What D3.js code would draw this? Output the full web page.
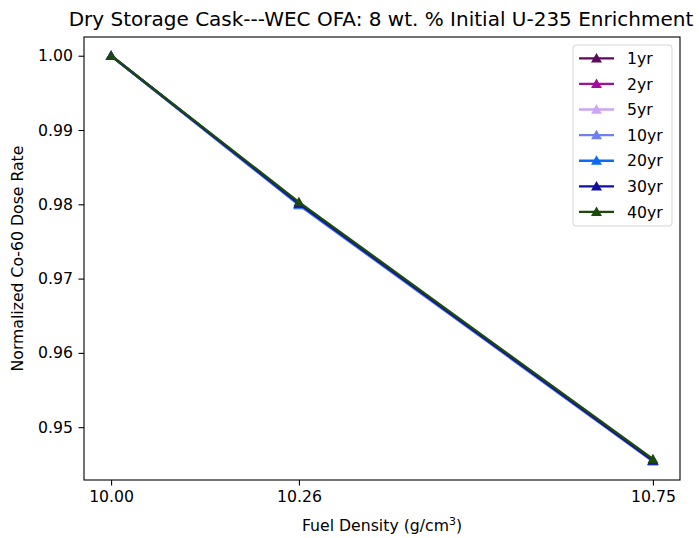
<!DOCTYPE html>
<html><head><meta charset="utf-8">
<script src="https://cdn.jsdelivr.net/npm/d3@7"></script>
<style>body{margin:0;background:#fff}svg{display:block;font-family:"DejaVu Sans",sans-serif}</style>
</head><body><svg id="c" width="699" height="538"></svg>
<script>
const densities = [10.00, 10.26, 10.75];
const xTickLabels = ["10.00", "10.26", "10.75"];
const yTicks = [0.95, 0.96, 0.97, 0.98, 0.99, 1.00];
const seriesNames = ["1yr", "2yr", "5yr", "10yr", "20yr", "30yr", "40yr"];
const seriesColors = ["#5c0a5c", "#a0109c", "#cca4f4", "#6e80f0", "#0a6cf4", "#10109c", "#1c4a0c"];
const v1yr  = [1.0, 0.9801, 0.9455];
const v2yr  = [1.0, 0.9800, 0.9455];
const v5yr  = [1.0, 0.9799, 0.9454];
const v10yr = [1.0, 0.9799, 0.9454];
const v20yr = [1.0, 0.9800, 0.9455];
const v30yr = [1.0, 0.9801, 0.9455];
const v40yr = [1.0, 0.9803, 0.9457];
const seriesValues = [v1yr, v2yr, v5yr, v10yr, v20yr, v30yr, v40yr];

const svg = d3.select("#c");
const L = 84, R = 680, T = 37, B = 480;
const fs = 15.7;
const x = d3.scaleLinear().domain([10.00 - 0.0375, 10.75 + 0.0375]).range([L, R]);
const y = d3.scaleLinear().domain([0.94289, 1.00252]).range([B, T]);

// axes
const xa = svg.append("g").attr("transform", `translate(0,${B})`)
  .call(d3.axisBottom(x).tickValues(densities).tickFormat((d, i) => xTickLabels[i]).tickSize(5.5).tickPadding(5.5));
const ya = svg.append("g").attr("transform", `translate(${L},0)`)
  .call(d3.axisLeft(y).tickValues(yTicks).tickFormat(d3.format(".2f")).tickSize(5.5).tickPadding(5.5));
[xa, ya].forEach(g => {
  g.select(".domain").remove();
  g.selectAll("line").attr("stroke", "#000").attr("stroke-width", 1.1);
  g.selectAll("text").attr("font-size", fs).attr("fill", "#000").attr("font-family", "DejaVu Sans");
});
svg.append("rect").attr("x", L).attr("y", T).attr("width", R - L).attr("height", B - T)
  .attr("fill", "none").attr("stroke", "#000").attr("stroke-width", 1.1);

// lines
const line = d3.line().x((d, i) => x(densities[i])).y(d => y(d));
const tri = d3.symbol().type(d3.symbolTriangle).size(52);
seriesValues.forEach((vals, si) => {
  const g = svg.append("g");
  g.append("path").attr("d", line(vals)).attr("fill", "none")
    .attr("stroke", seriesColors[si]).attr("stroke-width", 2.35).attr("stroke-linecap", "square");
  g.selectAll("path.m").data(vals).join("path").attr("class", "m")
    .attr("d", tri).attr("transform", (d, i) => `translate(${x(densities[i])},${y(d) + 1})`)
    .attr("fill", seriesColors[si]);
});

// legend
const lg = svg.append("g");
const lx = 573, ly = 45, lw = 99, lh = 181, step = 25.6;
lg.append("rect").attr("x", lx).attr("y", ly).attr("width", lw).attr("height", lh).attr("rx", 3)
  .attr("fill", "#fff").attr("fill-opacity", 0.8).attr("stroke", "#d5d5d5");
seriesNames.forEach((n, i) => {
  const cy = 58.3 + i * step;
  lg.append("line").attr("x1", 579).attr("x2", 614).attr("y1", cy).attr("y2", cy)
    .attr("stroke", seriesColors[i]).attr("stroke-width", 2.35);
  lg.append("path").attr("d", tri).attr("transform", `translate(596.5,${cy + 1})`).attr("fill", seriesColors[i]);
  lg.append("text").attr("x", 627).attr("y", cy).attr("dy", "0.36em").attr("font-size", fs).text(n);
});

// title and labels
svg.append("text").attr("x", 381).attr("y", 26).attr("text-anchor", "middle")
  .attr("font-size", 20).text("Dry Storage Cask---WEC OFA: 8 wt. % Initial U-235 Enrichment");
const xl = svg.append("text").attr("x", (L + R) / 2).attr("y", 531).attr("text-anchor", "middle").attr("font-size", fs);
xl.append("tspan").text("Fuel Density (g/cm");
xl.append("tspan").attr("font-size", fs * 0.7).attr("dy", -6).text("3");
xl.append("tspan").attr("dy", 6).text(")");
svg.append("text").attr("transform", `translate(23,${(T + B) / 2}) rotate(-90)`).attr("text-anchor", "middle")
  .attr("font-size", fs).text("Normalized Co-60 Dose Rate");
</script></body></html>
